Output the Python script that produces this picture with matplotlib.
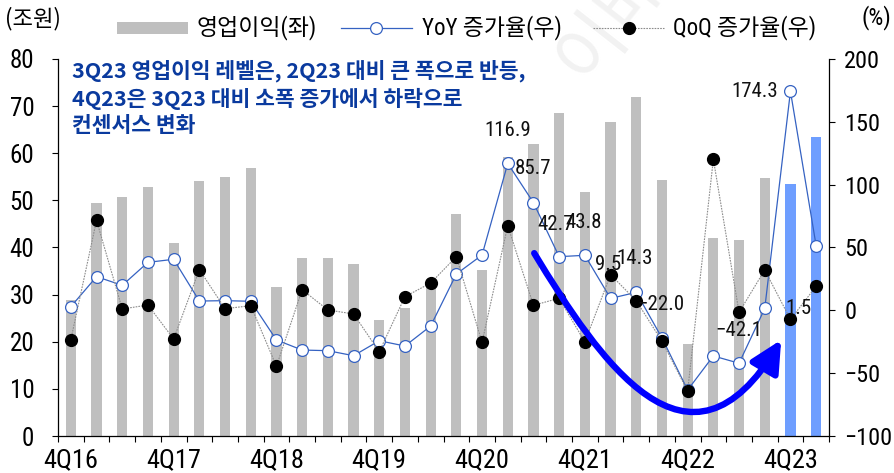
import matplotlib
matplotlib.use('Agg')
import matplotlib.pyplot as plt
import numpy as np
from matplotlib import font_manager
from matplotlib.path import Path
from matplotlib.patches import FancyArrowPatch, ArrowStyle, Rectangle
from matplotlib.lines import Line2D

# ---- pick a narrow latin font if one is installed ----
def pick_narrow():
    prefs = ['liberation sans narrow', 'roboto condensed', 'open sans condensed',
             'dejavu sans condensed', 'noto sans condensed', 'arial narrow']
    found = []
    for f in font_manager.fontManager.ttflist:
        key = (f.name + ' ' + f.fname).lower()
        if ('narrow' in key or 'condensed' in key) and f.style == 'normal' \
                and str(f.weight) in ('400', 'normal', 'regular', 'book'):
            if 'mono' in key or 'serif' in key.replace('sans', ''):
                continue
            rank = len(prefs)
            for r, p in enumerate(prefs):
                if p.replace(' ', '') in key.replace(' ', ''):
                    rank = r
                    break
            found.append((rank, f))
    if not found:
        return None
    found.sort(key=lambda t: t[0])
    return found[0][1]

narrow = pick_narrow()
KR = 'Noto Sans CJK KR'
if narrow is not None:
    LAT = narrow.name
    plt.rcParams['font.stretch'] = narrow.stretch
    size_scale = 1.0
else:
    LAT = 'Liberation Sans'
    size_scale = 0.9
plt.rcParams['font.family'] = [LAT, KR, 'DejaVu Sans']
plt.rcParams['axes.unicode_minus'] = True

# ---------------- data ----------------
quarters = ['4Q16', '1Q17', '2Q17', '3Q17', '4Q17', '1Q18', '2Q18', '3Q18',
            '4Q18', '1Q19', '2Q19', '3Q19', '4Q19', '1Q20', '2Q20', '3Q20',
            '4Q20', '1Q21', '2Q21', '3Q21', '4Q21', '1Q22', '2Q22', '3Q22',
            '4Q22', '1Q23', '2Q23', '3Q23', '4Q23', '1Q24']
profit = [28.9, 49.5, 50.7, 52.8, 40.9, 54.1, 54.9, 56.8,
          31.6, 37.8, 37.8, 36.6, 24.6, 27.1, 33.0, 47.1,
          35.2, 59.3, 62.0, 68.5, 51.8, 66.6, 71.9, 54.3,
          19.5, 42.0, 41.5, 54.7, 53.5, 63.4]
yoy = [2.9, 26.8, 19.9, 38.2, 40.6, 7.4, 7.7, 7.2,
       -23.6, -31.6, -32.1, -36.1, -24.2, -28.4, -12.5, 28.9,
       44.0, 116.9, 85.7, 42.7, 43.8, 9.5, 14.3, -22.0,
       -63.4, -36.3, -42.1, 1.5, 174.3, 51.4]
qoq = [-23.3, 71.6, 1.1, 4.2, -22.8, 32.4, 1.3, 3.7,
       -44.5, 16.4, 0.3, -2.9, -32.9, 10.9, 21.7, 42.7,
       -25.5, 67.4, 4.0, 9.6, -25.2, 28.4, 7.7, -24.6,
       -64.2, 120.2, -1.6, 32.1, -7.2, 19.1]
consensus = ['4Q23', '1Q24']
tick_labels = ['4Q16', '4Q17', '4Q18', '4Q19', '4Q20', '4Q21', '4Q22', '4Q23']
labeled = {'1Q21': '116.9', '2Q21': '85.7', '3Q21': '42.7', '4Q21': '43.8',
           '1Q22': '9.5', '2Q22': '14.3', '3Q22': '−22.0', '2Q23': '−42.1',
           '3Q23': '1.5', '4Q23': '174.3'}
# label offsets (category units, % units)
label_off = {'1Q21': (0.0, 26), '2Q21': (0.0, 27), '3Q21': (-0.15, 26), '4Q21': (-0.05, 26),
             '1Q22': (-0.1, 27), '2Q22': (-0.05, 27), '3Q22': (-0.05, 27), '2Q23': (0.0, 26),
             '3Q23': (1.3, -0.4), '4Q23': (-1.4, 0.2)}
legend_names = ['영업이익(좌)', 'YoY 증가율(우)', 'QoQ 증가율(우)']

comment = "3Q23 영업이익 레벨은, 2Q23 대비 큰 폭으로 반등,\n4Q23은 3Q23 대비 소폭 증가에서 하락으로\n컨센서스 변화"

# ---------------- styles ----------------
GRAY = '#BFBFBF'
BLUEBAR = '#6E9EFF'
YOYC = '#3562C2'
QOQL = '#8C8C8C'

# ---------------- figure ----------------
fig = plt.figure(figsize=(8.94, 4.73), dpi=100)
W, H = 894, 473
ax = fig.add_axes([58 / W, (H - 436) / H, (829 - 58) / W, (436 - 59) / H])
ax2 = ax.twinx()

x = np.arange(len(quarters))
bar_colors = [BLUEBAR if q in consensus else GRAY for q in quarters]
bars = ax.bar(x, profit, width=0.4, color=bar_colors, zorder=2)

ax.set_xlim(-0.5, len(quarters) - 0.5)
ax.set_ylim(0, 80)
ax.set_yticks(np.arange(0, 81, 10))
ax2.set_ylim(-100, 200)
ax2.set_yticks(np.arange(-100, 201, 50))

ax.set_xticks([quarters.index(t) for t in tick_labels])
ax.set_xticklabels(tick_labels)
ax.set_xticks(np.arange(-0.5, len(quarters), 1), minor=True)
ax.tick_params(axis='x', which='major', length=0, pad=9, labelsize=19 * size_scale)
ax.tick_params(axis='x', which='minor', length=4, width=0.8, direction='out')
ax.tick_params(axis='y', length=4, width=0.8, direction='out', labelsize=18 * size_scale, pad=13)
ax2.tick_params(axis='y', length=4, width=0.8, direction='out', labelsize=17.5 * size_scale, pad=7)

for a in (ax, ax2):
    a.spines['top'].set_visible(False)
    for s in ('left', 'right', 'bottom'):
        a.spines[s].set_linewidth(0.9)
ax.spines['right'].set_visible(False)
ax2.spines['left'].set_visible(False)
ax2.spines['bottom'].set_visible(False)

ax2.set_zorder(ax.get_zorder() + 1)
ax2.patch.set_visible(False)

ax2.plot(x, yoy, color=YOYC, lw=0.9, marker='o', markersize=8.5,
         markerfacecolor='white', markeredgecolor=YOYC, markeredgewidth=0.9, zorder=3)
ax2.plot(x, qoq, color=QOQL, lw=0.8, linestyle=(0, (1.5, 1)), marker='o',
         markersize=8.5, markerfacecolor='black', markeredgecolor='black', zorder=4)

for q, txt in labeled.items():
    i = quarters.index(q)
    dx, dy = label_off[q]
    ax2.text(i + dx, yoy[i] + dy, txt, ha='center', va='center', fontsize=15 * size_scale,
             color='#111111', zorder=6)

# curved arrow
verts = [(18.03, 38.8), (20.56, 16.1), (24.06, -12.5), (27.64, 20.4)]
path = Path(verts, [Path.MOVETO, Path.CURVE4, Path.CURVE4, Path.CURVE4])
arr = FancyArrowPatch(path=path, arrowstyle=ArrowStyle('-|>', head_length=1.9, head_width=0.95),
                      mutation_scale=10, lw=4.6, color='#0000FF', zorder=7,
                      transform=ax.transData, clip_on=False)
ax2.add_artist(arr)
arr.set_transform(ax.transData)

# comment text
fig.text(72 / W, 1 - 59 / H, comment, ha='left', va='top', fontsize=15.5,
         fontweight='bold', color='#0A3A9E', linespacing=1.33,
         family=[KR, 'DejaVu Sans'])

# unit labels
fig.text(5 / W, 1 - 19 / H, '(조원)', ha='left', va='center', fontsize=16, family=[KR])
fig.text(891 / W, 1 - 18 / H, '(%)', ha='right', va='center', fontsize=17 * size_scale)

# legend (drawn by hand for exact placement)
ly = 1 - 28 / H
fig.add_artist(Rectangle((117 / W, 1 - 34 / H), 71 / W, 12 / H, transform=fig.transFigure,
                         facecolor=GRAY, edgecolor='none'))
fig.add_artist(Line2D([341 / W, 412 / W], [ly, ly], transform=fig.transFigure,
                      color=YOYC, lw=0.9))
fig.add_artist(Line2D([376 / W], [ly], transform=fig.transFigure, marker='o', markersize=8.5,
                      markerfacecolor='white', markeredgecolor=YOYC, markeredgewidth=0.9))
fig.add_artist(Line2D([593 / W, 664 / W], [ly, ly], transform=fig.transFigure,
                      color=QOQL, lw=0.8, linestyle=(0, (1.5, 1))))
fig.add_artist(Line2D([629 / W], [ly], transform=fig.transFigure, marker='o', markersize=8.5,
                      markerfacecolor='black', markeredgecolor='black'))
for name, lx in zip(legend_names, [197, 422, 673]):
    fig.text(lx / W, ly, name, ha='left', va='center', fontsize=16.5, family=[LAT, KR])

# watermark
fig.text(600 / W, 1 - 95 / H, '이베스트', rotation=52, fontsize=52, color='#F2F2F2',
         ha='left', va='bottom', family=[KR], zorder=0, rotation_mode='anchor')

fig.savefig('out.png', dpi=100)
